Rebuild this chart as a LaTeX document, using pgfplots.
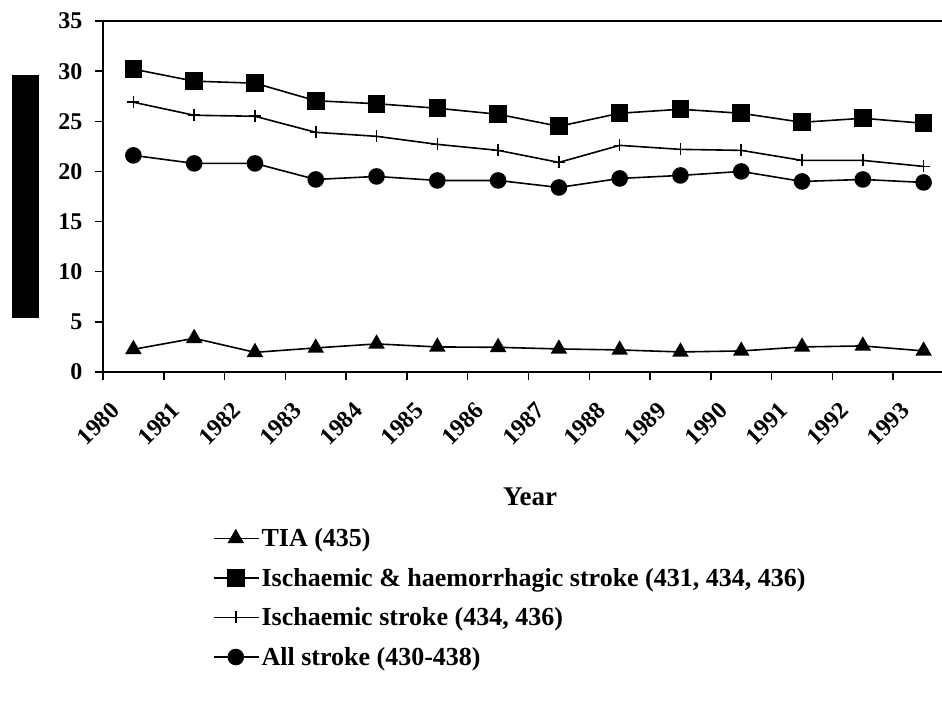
\documentclass[border=0pt]{standalone}
\usepackage{fontspec}
\setmainfont{Liberation Serif}
\usepackage{pgfplots}
\pgfplotsset{compat=1.18}
\begin{document}
\begin{tikzpicture}[x=1pt,y=1pt]
\useasboundingbox (0,0) rectangle (942,704);
\clip (0,0) rectangle (942,704);
% box over the y label
\fill[black] (12,386) rectangle (39,629);
\node[font=\bfseries\fontsize{27}{32}\selectfont] at (530,207) {Year};
\begin{axis}[
  at={(103pt,332pt)}, anchor=south west,
  width=851pt, height=351pt, scale only axis,
  xmin=0.5, xmax=14.5, ymin=0, ymax=35,
  ytick={0,5,...,35},
  xtick={0.5,1.5,...,14.5},
  xticklabels={1980,1981,1982,1983,1984,1985,1986,1987,1988,1989,1990,1991,1992,1993},
  x tick label as interval,
  xticklabel style={xshift=-24pt, yshift=-16pt, rotate=45, anchor=north east},
  yticklabel style={xshift=-9pt},
  tick align=outside, xtick pos=bottom, ytick pos=left,
  major tick length=8pt,
  axis line style={line width=2pt},
  every tick/.style={black, line width=1.5pt},
  tick label style={font=\bfseries\fontsize{24}{28}\selectfont},
  /pgf/number format/assume math mode=true,
  clip=false,
  every axis plot/.append style={black, line width=1.6pt, mark options={solid}},
  legend cell align=left,
  legend style={draw=none, fill=none, at={(0.129,-0.44)}, anchor=north west,
    font=\bfseries\fontsize{26}{30}\selectfont, row sep=16pt, inner sep=0pt},
  legend image code/.code={\draw[line width=1.6pt, mark repeat=2,mark phase=2] plot coordinates {(0pt,0pt)(22pt,0pt)(45pt,0pt)};},
]
\addplot[mark=triangle*, mark size=8pt] coordinates {
 (1,2.26) (2,3.36) (3,1.96) (4,2.4) (5,2.8) (6,2.5) (7,2.46) (8,2.3) (9,2.2) (10,2.0) (11,2.1) (12,2.5) (13,2.6) (14,2.1)};
\addlegendentry{TIA (435)}
\addplot[mark=square*, mark size=8pt] coordinates {
 (1,30.2) (2,29.0) (3,28.8) (4,27.05) (5,26.75) (6,26.3) (7,25.7) (8,24.5) (9,25.8) (10,26.2) (11,25.8) (12,24.9) (13,25.3) (14,24.8)};
\addlegendentry{Ischaemic \& haemorrhagic stroke (431, 434, 436)}
\addplot[mark=+, mark size=6pt] coordinates {
 (1,26.9) (2,25.6) (3,25.5) (4,23.9) (5,23.5) (6,22.7) (7,22.1) (8,20.9) (9,22.6) (10,22.2) (11,22.1) (12,21.1) (13,21.1) (14,20.5)};
\addlegendentry{Ischaemic stroke (434, 436)}
\addplot[mark=*, mark size=7.5pt] coordinates {
 (1,21.6) (2,20.8) (3,20.8) (4,19.2) (5,19.5) (6,19.1) (7,19.1) (8,18.4) (9,19.3) (10,19.6) (11,20.0) (12,19.0) (13,19.2) (14,18.9)};
\addlegendentry{All stroke (430-438)}
\end{axis}
\end{tikzpicture}
\end{document}
